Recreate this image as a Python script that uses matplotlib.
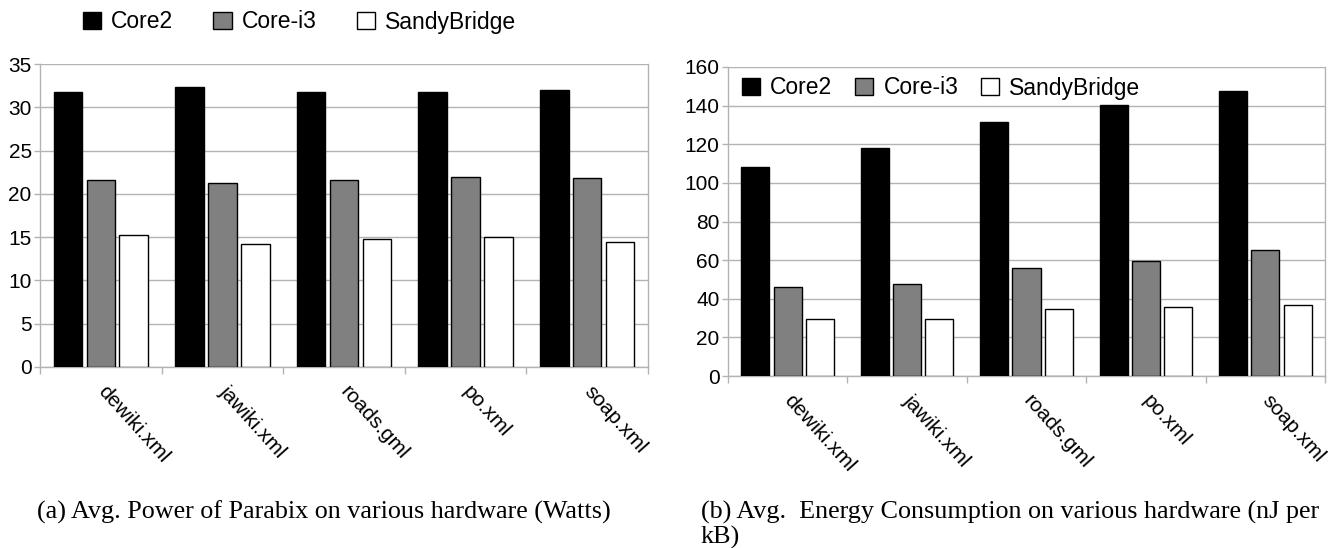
import matplotlib
matplotlib.use("Agg")
import matplotlib.pyplot as plt
import matplotlib.transforms as mtransforms
import numpy as np

plt.rcParams['font.family'] = ['Liberation Sans', 'DejaVu Sans']

categories = ["dewiki.xml", "jawiki.xml", "roads.gml", "po.xml", "soap.xml"]
series = ["Core2", "Core-i3", "SandyBridge"]

power_core2 = [31.8, 32.4, 31.8, 31.8, 32.0]
power_corei3 = [21.6, 21.2, 21.6, 21.9, 21.8]
power_sandy = [15.2, 14.2, 14.8, 15.0, 14.4]

energy_core2 = [108.3, 118.1, 131.6, 140.2, 147.8]
energy_corei3 = [46.2, 47.8, 55.7, 59.3, 65.2]
energy_sandy = [29.7, 29.7, 34.8, 35.9, 36.9]

colors = ["#000000", "#808080", "#ffffff"]
grid_c = "#b3b3b3"
fs = 15
lfs = 16.5

W, H = 1340, 548
fig = plt.figure(figsize=(W / 100, H / 100), dpi=100)
ax1 = fig.add_axes([40 / W, 1 - 367 / H, 608 / W, 303 / H])
ax2 = fig.add_axes([728 / W, 1 - 376 / H, 597 / W, 309 / H])


def draw(ax, data, ymax, ystep):
    x = np.arange(len(categories))
    w = 0.235
    sp = 0.27
    for i, (vals, c) in enumerate(zip(data, colors)):
        ax.bar(x + (i - 1) * sp, vals, width=w, color=c, edgecolor="black",
               linewidth=1.0, label=series[i], zorder=3)
    ax.set_xlim(-0.5, len(categories) - 0.5)
    ax.set_ylim(0, ymax)
    ax.set_yticks(np.arange(0, ymax + 1, ystep))
    ax.yaxis.grid(True, color=grid_c, linewidth=1.0, zorder=0)
    ax.set_axisbelow(True)
    for s in ax.spines.values():
        s.set_color(grid_c)
        s.set_linewidth(1.0)
    ax.spines['top'].set_visible(False)
    ax.set_xticks(np.arange(-0.5, len(categories) + 0.5, 1.0))
    ax.set_xticklabels([])
    ax.tick_params(axis='x', which='major', length=5, color=grid_c, width=1)
    ax.tick_params(axis='y', length=4, color=grid_c, width=1, labelsize=fs, pad=2)
    trans = mtransforms.blended_transform_factory(ax.transData, ax.transAxes)
    off = mtransforms.ScaledTranslation(7 / 100, -15 / 100, fig.dpi_scale_trans)
    for xi, lab in zip(x, categories):
        ax.text(xi, 0, lab, transform=trans + off, rotation=-48, ha='left', va='top',
                rotation_mode='anchor', fontsize=fs)


draw(ax1, [power_core2, power_corei3, power_sandy], 35, 5)
draw(ax2, [energy_core2, energy_corei3, energy_sandy], 160, 20)

h, l = ax1.get_legend_handles_labels()
fig.legend(h, l, loc='center left', bbox_to_anchor=(83 / W, 1 - 22 / H),
           ncol=3, frameon=False, fontsize=lfs, handlelength=0.79, handleheight=0.79,
           handletextpad=0.44, columnspacing=1.75, borderpad=0, borderaxespad=0)
fig.legend(h, l, loc='center left', bbox_to_anchor=(742 / W, 1 - 88 / H),
           ncol=3, frameon=False, fontsize=lfs, handlelength=0.79, handleheight=0.79,
           handletextpad=0.44, columnspacing=1.0, borderpad=0, borderaxespad=0)

cap_font = ['Liberation Serif', 'DejaVu Serif']
cfs = 18.8
fig.text(324 / W, 1 - 512 / H, "(a) Avg. Power of Parabix on various hardware (Watts)",
         ha='center', va='center', fontsize=cfs, family=cap_font)
fig.text(701 / W, 1 - 512 / H, "(b) Avg.  Energy Consumption on various hardware (nJ per",
         ha='left', va='center', fontsize=cfs, family=cap_font)
fig.text(701 / W, 1 - 543.5 / H, "kB)", ha='left', va='baseline', fontsize=cfs, family=cap_font)

fig.savefig("out.png", dpi=100)
